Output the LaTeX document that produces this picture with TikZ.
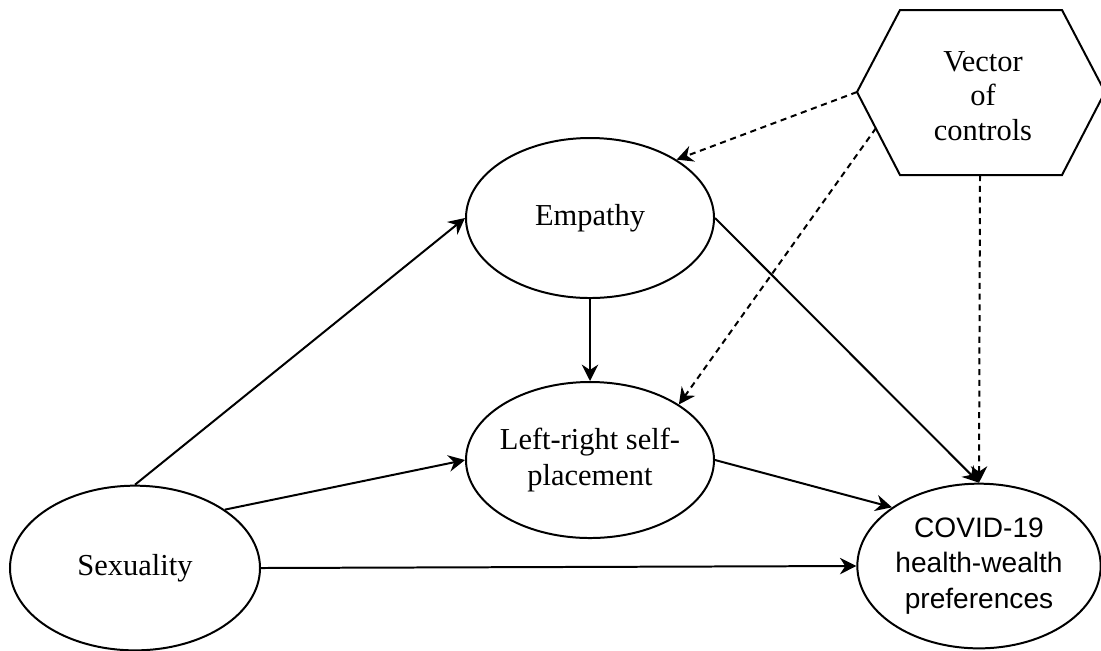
\documentclass[tikz,border=0pt]{standalone}
\usepackage{fontspec}
\setmainfont{Liberation Serif}
\newfontfamily\covidfont{Liberation Sans}
\usetikzlibrary{arrows.meta,shapes.geometric,positioning}

\tikzset{
  varnode/.style={draw, ellipse, line width=0.85pt, inner sep=0pt, align=center,
    minimum width=3.72cm, minimum height=2.4cm, font=\fontsize{13}{15}\selectfont},
  link/.style={-{Stealth[length=7pt,width=7pt]}, line width=0.85pt},
  ctrllink/.style={link, dash pattern=on 2.6pt off 2pt}
}

\begin{document}
\begin{tikzpicture}[x=0.015cm,y=-0.015cm]
  \useasboundingbox (0,0) rectangle (1101,650);
  % nodes
  \node[varnode] (emp) at (590,218) {Empathy};
  \node[varnode, minimum height=2.34cm, inner xsep=-1.6pt] (lr) at (590,460) {Left-right self-\\placement};
  \node[varnode, minimum width=3.75cm, minimum height=2.47cm] (sex) at (135,568) {Sexuality};
  \node[varnode, minimum width=3.65cm, minimum height=2.47cm, font=\covidfont\fontsize{12}{15.3}\selectfont] (covid) at (979,566) {COVID-19\\health-wealth\\preferences};
  \node[align=center, font=\fontsize{13}{14.6}\selectfont] (ctrl) at (983,96) {Vector\\of\\controls};
  \draw[line width=0.85pt] (857,92) -- (900,10) -- (1062,10) -- (1105,92) -- (1062,175) -- (900,175) -- cycle;
  \coordinate (ctrlW) at (857,92);
  \coordinate (ctrlSW) at (876,128);
  \coordinate (ctrlS) at (980,175);
  % paths
  \draw[link] (sex.north) -- (emp.west);
  \draw[link] (sex.33) -- (lr.west);
  \draw[link] (sex.east) -- (covid.west);
  \draw[link] (emp) -- (lr);
  \draw[link] (emp.east) -- (covid.north);
  \draw[link] (lr.east) -- (covid.146);
  % controls
  \draw[ctrllink] (ctrlW) -- (emp.34);
  \draw[ctrllink] (ctrlSW) -- (lr.32);
  \draw[ctrllink] (ctrlS) -- (covid.north);
\end{tikzpicture}
\end{document}
